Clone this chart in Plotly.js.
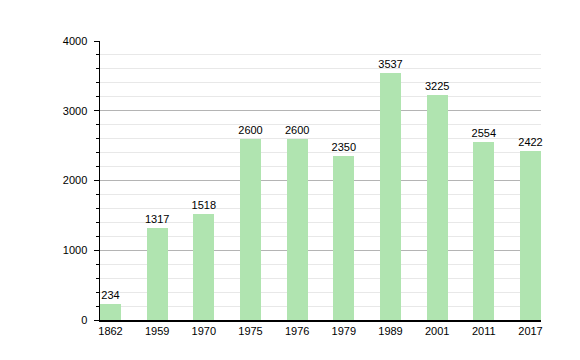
<!DOCTYPE html>
<html><head><meta charset="utf-8">
<script src="https://cdn.plot.ly/plotly-3.0.1.min.js"></script>
<style>body{margin:0;background:#fff}#c{width:580px;height:360px}</style>
</head><body><div id="c"></div>
<script>
const years = ["1862","1959","1970","1975","1976","1979","1989","2001","2011","2017"];
const population = [234,1317,1518,2600,2600,2350,3537,3225,2554,2422];
const yTicks = [0,1000,2000,3000,4000];

const font = {family: "Liberation Sans, Arial, sans-serif", size: 11, color: "#000"};
Plotly.newPlot("c", [{
  type: "bar",
  x: years,
  y: population,
  width: 0.45,
  marker: {color: "#b0e4b0"},
  text: population.map(String),
  textposition: "outside",
  constraintext: "none",
  textfont: font,
  cliponaxis: false,
  hoverinfo: "none"
}], {
  width: 580, height: 360,
  margin: {l: 100, r: 39, t: 41, b: 40},
  paper_bgcolor: "#fff", plot_bgcolor: "#fff",
  font: font,
  showlegend: false,
  xaxis: {
    type: "category",
    range: [-0.225, 9.225],
    showline: true, linecolor: "#000", linewidth: 1.5,
    ticks: "", showgrid: false, fixedrange: true,
    tickfont: font
  },
  yaxis: {
    range: [0, 4000],
    tickvals: yTicks,
    ticktext: yTicks.map(String),
    showline: true, linecolor: "#000", linewidth: 1.5,
    ticks: "outside", ticklen: 5, tickcolor: "#000", tickwidth: 1,
    showgrid: true, gridcolor: "#b4b4b4", gridwidth: 1,
    zeroline: false,
    ticklabelstandoff: 4,
    minor: {dtick: 200, ticks: "outside", ticklen: 3, tickcolor: "#000", showgrid: true, gridcolor: "#e8e8e8", gridwidth: 1},
    tickfont: font
  },
  bargap: 0
}, {staticPlot: true});
</script></body></html>
